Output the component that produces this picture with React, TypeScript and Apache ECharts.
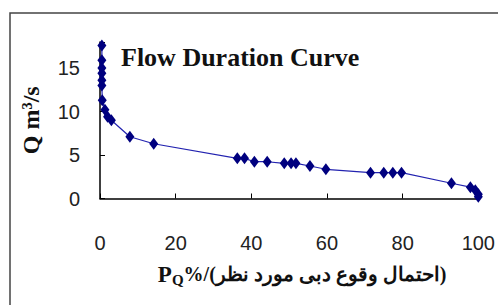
import React, { useEffect, useRef } from "react";
import * as echarts from "echarts";

const pct = [0.5, 0.5, 0.5, 0.5, 0.5, 0.5, 0.6, 1.3, 2, 3, 7.9, 14.2, 36.3, 38.2, 40.8, 44.2, 48.7, 50.5, 51.8, 55.5, 59.7, 71.5, 75, 77.4, 79.7, 92.9, 97.9, 99.2, 100, 100];
const flow = [17.6, 15.9, 15.0, 14.4, 13.6, 13.0, 11.3, 10.2, 9.4, 9.0, 7.1, 6.3, 4.62, 4.62, 4.23, 4.23, 4.05, 4.05, 4.05, 3.74, 3.36, 2.97, 2.97, 2.97, 2.97, 1.75, 1.3, 0.95, 0.5, 0.2];
const xTicks = [0, 20, 40, 60, 80, 100];
const yTicks = [0, 5, 10, 15];
const titleText = "Flow Duration Curve";
const xName = "%/(احتمال وقوع دبی مورد نظر)";

export default function App() {
  const ref = useRef<HTMLDivElement>(null);
  useEffect(() => {
    if (!ref.current) return;
    const chart = echarts.init(ref.current, null, { renderer: "svg" });
    const data = pct.map((p, i) => [p, flow[i]]);
    chart.setOption({
      animation: false,
      backgroundColor: "#fff",
      title: {
        text: titleText,
        left: 116,
        top: 39,
        textStyle: { fontFamily: "Liberation Serif", fontWeight: "bold", fontSize: 26, color: "#111" },
      },
      grid: { left: 100, right: 18, top: 42, bottom: 106.5 },
      xAxis: {
        type: "value",
        min: 0,
        max: 100,
        interval: 20,
        splitLine: { show: false },
        axisLine: { lineStyle: { color: "#000", width: 1.5 } },
        axisTick: { inside: true, length: 5, lineStyle: { color: "#000" } },
        axisLabel: {
          margin: 34,
          fontFamily: "Liberation Sans",
          fontSize: 20,
          color: "#222",
          formatter: (v: number) => (xTicks.includes(v) ? String(v) : ""),
        },
        name: `{p|P}{s|Q}{t|${xName}}`,
        nameLocation: "middle",
        nameGap: 62,
        nameTextStyle: {
          padding: [0, 0, 0, 26],
          rich: {
            p: { fontFamily: "Liberation Serif", fontWeight: "bold", fontSize: 23, color: "#111" },
            s: { fontFamily: "Liberation Serif", fontWeight: "bold", fontSize: 15, color: "#111", verticalAlign: "bottom", padding: [12, 0, 0, 0] },
            t: { fontFamily: "Liberation Serif", fontWeight: "bold", fontSize: 20, color: "#111" },
          },
        },
      },
      yAxis: {
        type: "value",
        min: 0,
        max: 18,
        interval: 5,
        splitLine: { show: false },
        axisLine: { lineStyle: { color: "#000", width: 1.5 } },
        axisTick: { inside: true, length: 5, lineStyle: { color: "#000" } },
        axisLabel: {
          margin: 20,
          fontFamily: "Liberation Sans",
          fontSize: 20,
          color: "#222",
          formatter: (v: number) => (yTicks.includes(v) ? String(v) : ""),
        },
        name: "Q m³/s",
        nameLocation: "middle",
        nameRotate: 90,
        nameGap: 57,
        nameTextStyle: { fontFamily: "Liberation Serif", fontWeight: "bold", fontSize: 24, color: "#111" },
      },
      graphic: [
        {
          type: "rect",
          shape: { x: 10, y: 13, width: 520, height: 320 },
          style: { fill: "none", stroke: "#444", lineWidth: 1.5 },
          silent: true,
        },
      ],
      series: [
        {
          type: "line",
          data,
          symbol: "diamond",
          symbolSize: [9, 12],
          itemStyle: { color: "#00007f" },
          lineStyle: { color: "#2323b0", width: 1.2 },
        },
      ],
    });
    return () => chart.dispose();
  }, []);
  return <div ref={ref} style={{ width: 498, height: 305, position: "absolute", left: 0, top: 0 }} />;
}
